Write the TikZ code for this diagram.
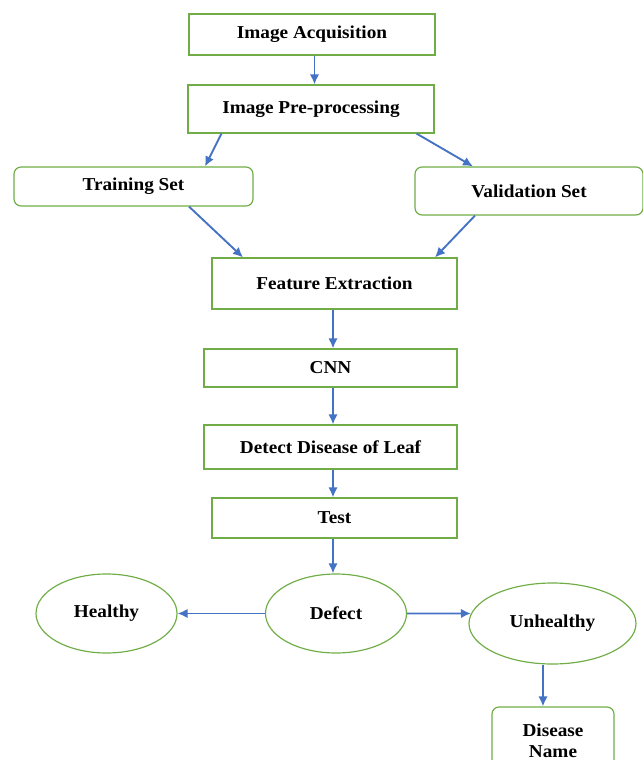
\documentclass[tikz,border=0pt]{standalone}
\usepackage{fontspec}
\setmainfont{Liberation Serif}[FakeStretch=1.06]
\usepackage{xcolor}
\usepackage{tikz}
\usetikzlibrary{shapes.geometric, arrows.meta}
\definecolor{boxgreen}{HTML}{70AD47}
\definecolor{flowblue}{HTML}{4472C4}
\newcommand{\pxu}{0.03cm}
\tikzstyle{stage} = [rectangle, draw=boxgreen, line width=1pt, text centered, font=\bfseries\fontsize{15.5}{18}\selectfont]
\tikzstyle{subset} = [stage, rounded corners=6pt]
\tikzstyle{result} = [ellipse, draw=boxgreen, line width=1pt, text centered, inner sep=0pt, font=\bfseries\fontsize{15.5}{18}\selectfont]
\tikzstyle{arrow} = [line width=1.6pt, draw=flowblue, ->, >={Latex[length=8.5pt,width=8pt]}]

\begin{document}
\begin{tikzpicture}[x=0.03cm, y=-0.03cm]
            \clip (0,0) rectangle (643,760);
            \node[stage, minimum width=246*\pxu, minimum height=41*\pxu] (acq) at (312,34.5) {Image Acquisition};
            \node[stage, minimum width=246*\pxu, minimum height=48*\pxu] (pre) at (311,109) {Image Pre-processing};
            \node[subset, minimum width=239*\pxu, minimum height=39*\pxu] (train) at (133.5,186.5) {Training Set};
            \node[subset, minimum width=228*\pxu, minimum height=48*\pxu] (valid) at (529,191) {Validation Set};
            \node[stage, minimum width=245*\pxu, minimum height=51*\pxu] (feat) at (334.5,283.5) {Feature Extraction};
            \node[stage, minimum width=253*\pxu, minimum height=38*\pxu] (cnn) at (330.5,368) {CNN};
            \node[stage, minimum width=253*\pxu, minimum height=44*\pxu] (detect) at (330.5,447) {Detect Disease of Leaf};
            \node[stage, minimum width=245*\pxu, minimum height=40*\pxu] (test) at (334.5,518) {Test};
            \node[result, minimum width=141*\pxu, minimum height=79*\pxu] (defect) at (336,613.5) {Defect};
            \node[result, minimum width=141*\pxu, minimum height=79*\pxu] (healthy) at (106.5,613.5) {Healthy};
            \node[result, minimum width=167*\pxu, minimum height=81*\pxu] (unhealthy) at (552.5,623.5) {Unhealthy};
            \node[subset, minimum width=122*\pxu, minimum height=68*\pxu, align=center] (disease) at (553,741) {Disease\\Name};

            \draw[arrow] ([shift={(2.5,0)}]acq.south) -- ([shift={(3.5,0)}]pre.north);
            \draw[arrow] ([shift={(34,0)}]pre.south west) -- ([shift={(71.5,0)}]train.north);
            \draw[arrow] ([shift={(-18,0)}]pre.south east) -- ([shift={(-56,0)}]valid.north);
            \draw[arrow] ([shift={(55.5,0)}]train.south) -- ([shift={(-91.5,0)}]feat.north);
            \draw[arrow] ([shift={(-54,0)}]valid.south) -- ([shift={(100.5,0)}]feat.north);
            \draw[arrow] ([shift={(-1.5,0)}]feat.south) -- ([shift={(-1.5,0)}]feat.south |- cnn.north);
            \draw[arrow] ([shift={(2.5,0)}]cnn.south) -- ([shift={(2.5,0)}]detect.north);
            \draw[arrow] ([shift={(2.5,0)}]detect.south) -- ([shift={(-1.5,0)}]test.north);
            \draw[arrow] ([shift={(-1.5,0)}]test.south) -- ([shift={(-1.5,0)}]test.south |- defect.north);
            \draw[arrow] (defect.west) -- (healthy.east);
            \draw[arrow] (defect.east) -- (unhealthy.173);
            \draw[arrow] ([shift={(-10,0)}]disease.north |- unhealthy.south) -- ([shift={(-10,0)}]disease.north);
        \end{tikzpicture}
\end{document}
